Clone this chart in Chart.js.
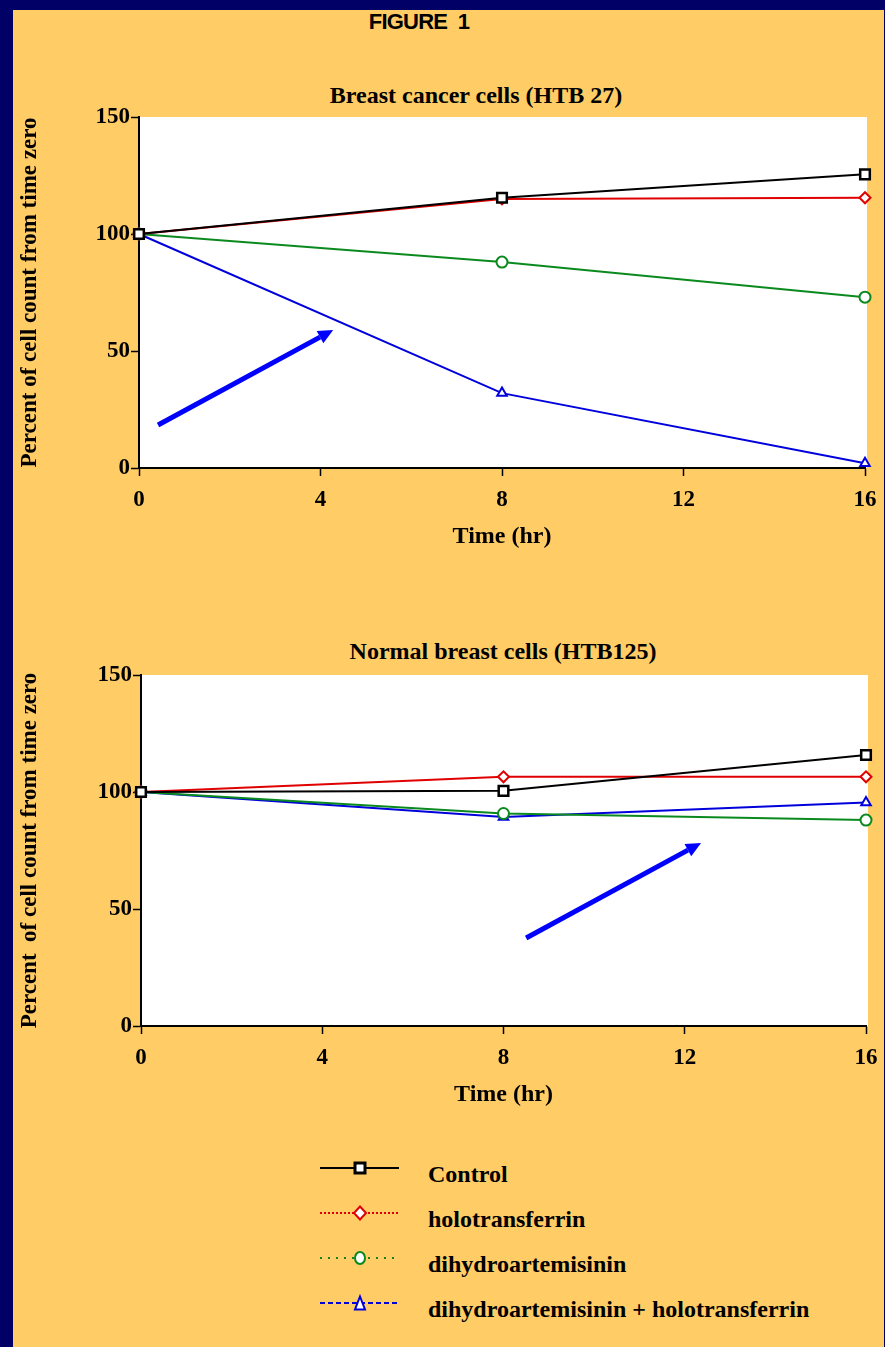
<!DOCTYPE html>
<html>
<head>
<meta charset="utf-8">
<script src="https://cdn.jsdelivr.net/npm/chart.js@4.4.0/dist/chart.umd.min.js"></script>
<style>
  html, body { margin: 0; padding: 0; }
  body { width: 885px; height: 1347px; background: #000066; position: relative; overflow: hidden;
         font-family: "Liberation Serif", "Times New Roman", serif; }
  #page { position: absolute; left: 13px; top: 10px; width: 871px; height: 1337px; background: #FFCC66; }
  .txt { position: absolute; font-weight: bold; color: #000; white-space: pre; line-height: 1; }
  .ctr { transform: translate(-50%, -50%); }
  canvas { position: absolute; left: 0; }
  #legend { position: absolute; left: 300px; top: 1140px; }
</style>
</head>
<body>
<div id="page"></div>
<div class="txt ctr" style="left:419px;top:22px;font-family:'Liberation Sans',Arial,sans-serif;font-size:22px;letter-spacing:-0.8px;">FIGURE  1</div>
<div class="txt ctr" style="left:476px;top:95px;font-size:24px;">Breast cancer cells (HTB 27)</div>
<div class="txt ctr" style="left:503px;top:651px;font-size:24px;">Normal breast cells (HTB125)</div>

<canvas id="cancerChart" width="885" height="479" style="top:70px"></canvas>
<canvas id="normalChart" width="885" height="479" style="top:628px"></canvas>

<svg id="legend" width="120" height="180"></svg>
<div id="legendText"></div>

<script>
const Chart = window.Chart;

// time points (hr) and axis ticks
const hours = [0, 8, 16];
const xTickValues = [0, 4, 8, 12, 16];
const yTickValues = [0, 50, 100, 150];

const seriesNames = ['Control', 'holotransferrin', 'dihydroartemisinin', 'dihydroartemisinin + holotransferrin'];
const seriesColors = ['#000000', '#E00000', '#0A8A1E', '#0000DD'];
const seriesMarkers = ['rect', 'rectRot', 'circle', 'triangle'];

// Breast cancer cells (HTB 27), percent of time zero
const cancerControl = [100, 115.5, 125.5];
const cancerHolo = [100, 115, 115.5];
const cancerDha = [100, 88, 73];
const cancerDhaHolo = [100, 32, 2];

// Normal breast cells (HTB125)
const normalControl = [100, 100.5, 115.8];
const normalHolo = [100, 106.5, 106.5];
const normalDha = [100, 90.8, 88];
const normalDhaHolo = [100, 89.3, 95.5];

// annotation arrows, [start, tip] in (hr, percent)
const cancerArrow = [[0.42, 18.4], [4.28, 59]];
const normalArrow = [[8.5, 37.6], [12.36, 78.2]];

const serif = '"Liberation Serif", "Times New Roman", serif';

const plotBackground = {
    id: 'plotBackground',
    beforeDraw(chart) {
        const {ctx, chartArea: a} = chart;
        ctx.save();
        ctx.fillStyle = '#FFFFFF';
        ctx.fillRect(a.left, a.top, a.right - a.left + 2, a.bottom - a.top);
        ctx.restore();
    }
};

const arrowPlugin = {
    id: 'arrow',
    afterDatasetsDraw(chart, args, opts) {
        if (!opts.points) return;
        const {ctx, scales: {x, y}} = chart;
        const x0 = x.getPixelForValue(opts.points[0][0]);
        const y0 = y.getPixelForValue(opts.points[0][1]);
        const x1 = x.getPixelForValue(opts.points[1][0]);
        const y1 = y.getPixelForValue(opts.points[1][1]);
        const ang = Math.atan2(y1 - y0, x1 - x0);
        const headLen = 15, headHalf = 7;
        const bx = x1 - headLen * Math.cos(ang);
        const by = y1 - headLen * Math.sin(ang);
        ctx.save();
        ctx.strokeStyle = '#0000FF';
        ctx.fillStyle = '#0000FF';
        ctx.lineWidth = 5;
        ctx.beginPath();
        ctx.moveTo(x0, y0);
        ctx.lineTo(bx, by);
        ctx.stroke();
        ctx.beginPath();
        ctx.moveTo(x1, y1);
        ctx.lineTo(bx + headHalf * Math.sin(ang), by - headHalf * Math.cos(ang));
        ctx.lineTo(bx - headHalf * Math.sin(ang), by + headHalf * Math.cos(ang));
        ctx.closePath();
        ctx.fill();
        ctx.restore();
    }
};

function makeDataset(i, values) {
    const isRect = seriesMarkers[i] === 'rect';
    return {
        label: seriesNames[i],
        data: values,
        borderColor: seriesColors[i],
        backgroundColor: '#FFFFFF',
        borderWidth: 2,
        pointStyle: seriesMarkers[i],
        pointRadius: isRect ? 6.8 : 5.5,
        pointBorderWidth: isRect ? 2.5 : 2,
        pointBackgroundColor: '#FFFFFF',
        pointBorderColor: seriesColors[i],
        tension: 0,
        clip: false
    };
}

function renderChart(canvasId, series, yTitle, yAxisWidth, rightPad, arrow) {
    const tickFont = {family: serif, size: 23, weight: 'bold', lineHeight: 1};
    return new Chart(document.getElementById(canvasId), {
        type: 'line',
        data: {
            labels: hours,
            datasets: series.map((vals, i) => makeDataset(i, vals))
        },
        options: {
            responsive: false,
            animation: false,
            events: [],
            layout: {padding: {top: 47, right: rightPad, left: 0, bottom: 0}},
            plugins: {
                legend: {display: false},
                tooltip: {enabled: false},
                arrow: {points: arrow}
            },
            scales: {
                x: {
                    type: 'linear',
                    min: 0,
                    max: 16,
                    afterBuildTicks: s => { s.ticks = xTickValues.map(v => ({value: v})); },
                    afterFit: s => { s.height = 81; s.paddingLeft = 0; s.paddingRight = 0; },
                    grid: {drawOnChartArea: false, drawTicks: true, tickLength: 8, color: '#000', tickWidth: 1.5},
                    border: {display: true, color: '#000', width: 2},
                    ticks: {color: '#000', font: tickFont, padding: 13, maxRotation: 0, autoSkip: false},
                    title: {display: true, text: 'Time (hr)', color: '#000',
                            font: {family: serif, size: 24, weight: 'bold', lineHeight: 1}, padding: 0}
                },
                y: {
                    min: 0,
                    max: 150,
                    afterBuildTicks: s => { s.ticks = yTickValues.map(v => ({value: v})); },
                    afterFit: s => { s.width = yAxisWidth; s.paddingTop = 0; s.paddingBottom = 0; },
                    grid: {drawOnChartArea: false, drawTicks: true, tickLength: 8, color: '#000', tickWidth: 1.5},
                    border: {display: true, color: '#000', width: 2},
                    ticks: {color: '#000', font: tickFont, padding: 1},
                    title: {display: true, text: yTitle, color: '#000',
                            font: {family: serif, size: 23, weight: 'bold', lineHeight: 1}, padding: {top: 19, bottom: 0}}
                }
            }
        },
        plugins: [plotBackground, arrowPlugin]
    });
}

renderChart('cancerChart', [cancerControl, cancerHolo, cancerDha, cancerDhaHolo],
    'Percent of cell count from time zero', 139, 20, cancerArrow);
renderChart('normalChart', [normalControl, normalHolo, normalDha, normalDhaHolo],
    'Percent  of cell count from time zero', 141, 19, normalArrow);

// legend: line samples + markers in svg, labels as html text
const legendDash = ['', '2,2', '2,6', '5,3'];
const svg = document.getElementById('legend');
const ns = 'http://www.w3.org/2000/svg';
let html = '';
seriesNames.forEach((name, i) => {
    const cy = 28 + i * 45;
    const line = document.createElementNS(ns, 'line');
    line.setAttribute('x1', 20); line.setAttribute('x2', 99);
    line.setAttribute('y1', cy); line.setAttribute('y2', cy);
    line.setAttribute('stroke', seriesColors[i]);
    line.setAttribute('stroke-width', 2);
    if (legendDash[i]) line.setAttribute('stroke-dasharray', legendDash[i]);
    svg.appendChild(line);
    let m;
    const cx = 60;
    if (seriesMarkers[i] === 'rect') {
        m = document.createElementNS(ns, 'rect');
        m.setAttribute('x', cx - 5); m.setAttribute('y', cy - 5);
        m.setAttribute('width', 10); m.setAttribute('height', 10);
        m.setAttribute('stroke-width', 3);
    } else if (seriesMarkers[i] === 'rectRot') {
        m = document.createElementNS(ns, 'polygon');
        m.setAttribute('points', `${cx},${cy - 6.5} ${cx + 6},${cy} ${cx},${cy + 6.5} ${cx - 6},${cy}`);
        m.setAttribute('stroke-width', 2);
    } else if (seriesMarkers[i] === 'circle') {
        m = document.createElementNS(ns, 'ellipse');
        m.setAttribute('cx', cx); m.setAttribute('cy', cy);
        m.setAttribute('rx', 5); m.setAttribute('ry', 6);
        m.setAttribute('stroke-width', 2);
    } else {
        m = document.createElementNS(ns, 'polygon');
        m.setAttribute('points', `${cx},${cy - 6.5} ${cx + 5},${cy + 6.5} ${cx - 5},${cy + 6.5}`);
        m.setAttribute('stroke-width', 2);
    }
    m.setAttribute('fill', '#FFFFFF');
    m.setAttribute('stroke', seriesColors[i]);
    svg.appendChild(m);
    html += `<div class="txt" style="left:428px;top:${1140 + cy - 6}px;font-size:24px;">${name}</div>`;
});
document.getElementById('legendText').innerHTML = html;
</script>
</body>
</html>
